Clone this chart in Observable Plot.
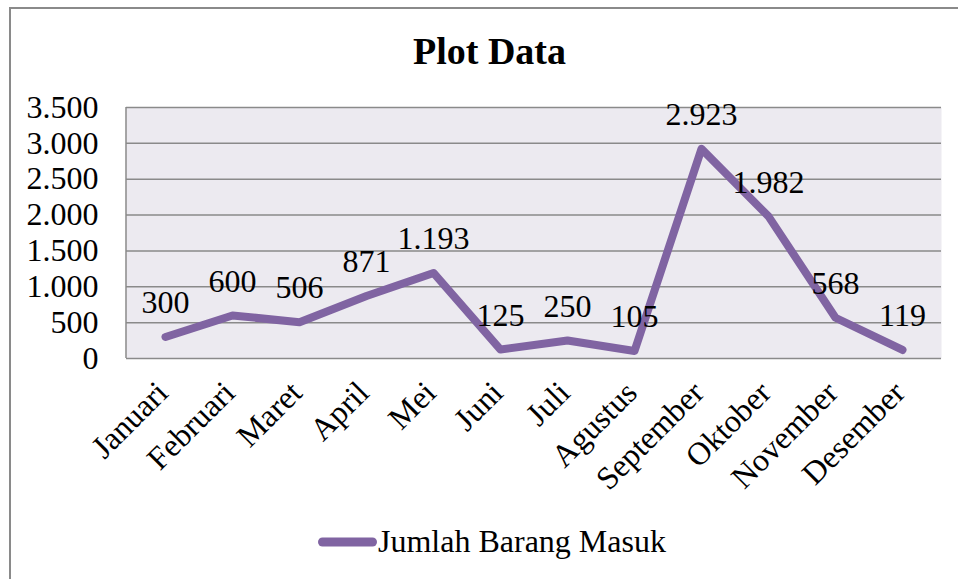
<!DOCTYPE html>
<html>
<head>
<meta charset="utf-8">
<script src="https://cdn.jsdelivr.net/npm/d3@7"></script>
<script src="https://cdn.jsdelivr.net/npm/@observablehq/plot@0.6"></script>
<style>
  html, body { margin: 0; padding: 0; background: #fff; }
  #wrap { position: relative; width: 958px; height: 579px; overflow: hidden; background: #fff; font-family: "Liberation Serif", "Times New Roman", serif; }
  #border { position: absolute; left: 9px; top: 7px; width: 1200px; height: 1200px; border-left: 2px solid #8a8a8a; border-top: 2px solid #8a8a8a; }
  #title { position: absolute; left: 0; top: 32px; width: 979px; text-align: center; font-weight: bold; font-size: 38px; line-height: 38px; color: #000; font-family: "Liberation Serif", serif; }
  #chart { position: absolute; left: 0; top: 90px; }
  #chart svg { overflow: visible; }
  #chart svg text { font-family: "Liberation Serif", serif !important; }
  #legend-swatch { position: absolute; left: 313px; top: 536px; }
  #legend-text { position: absolute; left: 378px; top: 525px; font-size: 32px; line-height: 32px; color: #000; white-space: nowrap; font-family: "Liberation Serif", serif; }
</style>
</head>
<body>
<div id="wrap">
  <div id="border"></div>
  <div id="title">Plot Data</div>
  <div id="chart"></div>
  <svg id="legend-swatch" width="70" height="12"><line x1="9.5" y1="6" x2="59.5" y2="6" stroke="#8064A2" stroke-width="9" stroke-linecap="round"/></svg>
  <div id="legend-text">Jumlah Barang Masuk</div>
</div>
<script>
const months = ["Januari", "Februari", "Maret", "April", "Mei", "Juni", "Juli", "Agustus", "September", "Oktober", "November", "Desember"];
const values = [300, 600, 506, 871, 1193, 125, 250, 105, 2923, 1982, 568, 119];
const yTicks = [0, 500, 1000, 1500, 2000, 2500, 3000, 3500];
const seriesName = "Jumlah Barang Masuk";

const data = months.map((m, i) => ({month: m, value: values[i]}));
const fmt = d3.formatLocale({decimal: ",", thousands: ".", grouping: [3], currency: ["", ""]}).format(",");

const leftBorder = (index, scales, values, dims) => {
  const l = document.createElementNS("http://www.w3.org/2000/svg", "line");
  l.setAttribute("x1", dims.marginLeft);
  l.setAttribute("x2", dims.marginLeft);
  l.setAttribute("y1", dims.marginTop);
  l.setAttribute("y2", dims.height - dims.marginBottom);
  l.setAttribute("stroke", "#888");
  l.setAttribute("stroke-width", 1.5);
  return l;
};

const chart = Plot.plot({
  width: 958,
  height: 390,
  marginLeft: 126,
  marginRight: 17,
  marginTop: 17,
  marginBottom: 122,
  style: {fontFamily: "'Liberation Serif', serif", fontSize: "32px", background: "transparent", color: "#000", overflow: "visible"},
  x: {type: "point", domain: months, padding: 0.5, align: 0.5},
  y: {domain: [0, 3500]},
  marks: [
    Plot.frame({fill: "#ECEAF0", stroke: null}),
    Plot.ruleY(yTicks, {stroke: "#8a8a8a", strokeWidth: 1.5}),
    leftBorder,
    Plot.axisY({ticks: yTicks, tickSize: 0, tickPadding: 28, tickFormat: fmt, fontSize: 32, label: null}),
    Plot.axisX({ticks: [], label: null, tickSize: 0}),
    Plot.text(months, {x: d => d, frameAnchor: "bottom", dx: -3, dy: 29, rotate: -45, textAnchor: "end", lineAnchor: "middle", fontSize: 32, fill: "#000"}),
    Plot.line(data, {x: "month", y: "value", stroke: "#8064A2", strokeWidth: 8, strokeLinecap: "round", strokeLinejoin: "round"}),
    Plot.text(data, {x: "month", y: "value", text: d => fmt(d.value), dy: -34, fontSize: 32, fill: "#000", lineAnchor: "middle"})
  ]
});
document.getElementById("chart").appendChild(chart);
</script>
</body>
</html>
